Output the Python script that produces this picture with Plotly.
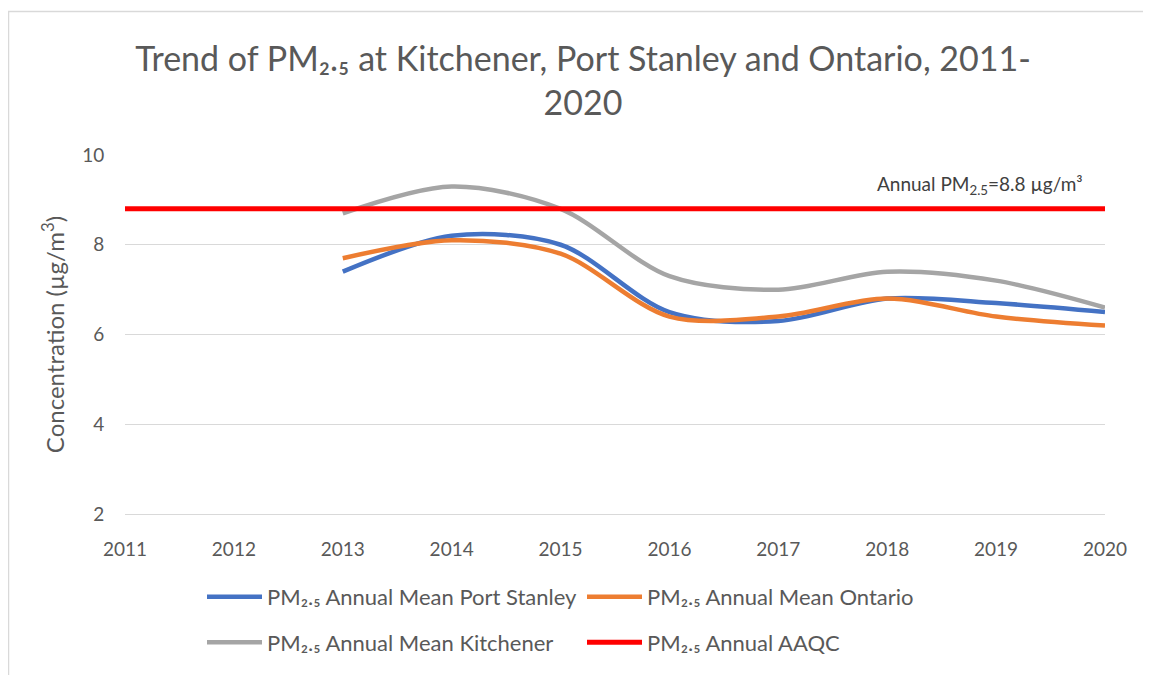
import plotly.graph_objects as go

years_all = [2011, 2012, 2013, 2014, 2015, 2016, 2017, 2018, 2019, 2020]
years_data = [2013, 2014, 2015, 2016, 2017, 2018, 2019, 2020]
port_stanley = [7.4, 8.2, 8.0, 6.5, 6.3, 6.8, 6.7, 6.5]
ontario = [7.7, 8.1, 7.8, 6.4, 6.4, 6.8, 6.4, 6.2]
kitchener = [8.7, 9.3, 8.8, 7.3, 7.0, 7.4, 7.2, 6.6]
aaqc = [8.8] * len(years_all)

names = ["PM₂.₅ Annual Mean Port Stanley", "PM₂.₅ Annual Mean Ontario",
         "PM₂.₅ Annual Mean Kitchener", "PM₂.₅ Annual AAQC"]

FONT = "Lato"
GREY = "#595959"

# page body margin offset (px)
OFF = 8
W, H = 1151 - OFF, 675 - OFF
# plot area in page pixel coordinates of the reference
PL, PR, PT, PB = 125, 1105, 155, 518
L, R, T, B = PL - OFF, PR - OFF, PT - OFF, PB - OFF
pw, ph = R - L, B - T


def px_x(p):
    return (p - OFF - L) / pw


def px_y(p):
    return (B - (p - OFF)) / ph


fig = go.Figure()
fig.add_trace(go.Scatter(x=years_data, y=port_stanley, mode="lines", name=names[0],
                         line=dict(color="#4472C4", width=4.5, shape="spline", smoothing=0.9),
                         legend="legend"))
fig.add_trace(go.Scatter(x=years_data, y=ontario, mode="lines", name=names[1],
                         line=dict(color="#ED7D31", width=4.5, shape="spline", smoothing=0.9),
                         legend="legend"))
fig.add_trace(go.Scatter(x=years_data, y=kitchener, mode="lines", name=names[2],
                         line=dict(color="#A5A5A5", width=4.5, shape="spline", smoothing=0.9),
                         legend="legend2"))
fig.add_trace(go.Scatter(x=years_all, y=aaqc, mode="lines", name=names[3],
                         line=dict(color="#FF0000", width=5),
                         legend="legend2"))

fig.add_annotation(text="Annual PM<sub>2.5</sub>=8.8 µg/m³", x=2020, y=8.8,
                   xref="x", yref="y", xanchor="right", yanchor="bottom",
                   xshift=-20, yshift=9, showarrow=False,
                   font=dict(family=FONT, size=19, color="#404040"))

fig.add_shape(type="rect", xref="paper", yref="paper",
              x0=px_x(8.5), x1=px_x(1190), y0=px_y(720), y1=px_y(10),
              line=dict(color="#d9d9d9", width=1.5), fillcolor="rgba(0,0,0,0)", layer="below")

legend_common = dict(orientation="h", xanchor="left", yanchor="middle",
                     entrywidth=310, entrywidthmode="pixels", traceorder="normal",
                     itemwidth=55,
                     font=dict(family=FONT, size=22, color=GREY), bgcolor="rgba(0,0,0,0)")

fig.update_layout(
    width=W, height=H,
    margin=dict(l=L, r=W - R, t=T, b=H - B),
    paper_bgcolor="white", plot_bgcolor="white",
    font=dict(family=FONT, color=GREY),
    title=dict(text="Trend of PM₂.₅ at Kitchener, Port Stanley and Ontario, 2011-<br>2020",
               x=(583 - OFF) / W, xref="container", xanchor="center",
               y=1 - (71 - OFF) / H, yref="container", yanchor="top",
               font=dict(family=FONT, size=34, color=GREY)),
    xaxis=dict(range=[2011, 2020], dtick=1, tick0=2011, showgrid=False,
               showline=True, linecolor="#d9d9d9", linewidth=1,
               ticks="outside", ticklen=18, tickcolor="rgba(0,0,0,0)",
               tickfont=dict(family=FONT, size=19, color=GREY), zeroline=False),
    yaxis=dict(range=[2, 10], dtick=2, tick0=2, showgrid=True, gridcolor="#d9d9d9",
               gridwidth=1, zeroline=False,
               ticks="outside", ticklen=16, tickcolor="rgba(0,0,0,0)",
               tickfont=dict(family=FONT, size=19, color=GREY),
               title=dict(text="Concentration (µg/m<sup>3</sup>)", standoff=10,
                          font=dict(family=FONT, size=24, color=GREY))),
    legend=dict(x=px_x(202), y=px_y(602), **legend_common),
    legend2=dict(x=px_x(202), y=px_y(648), **legend_common),
    showlegend=True,
)

fig.write_html("out.html")
